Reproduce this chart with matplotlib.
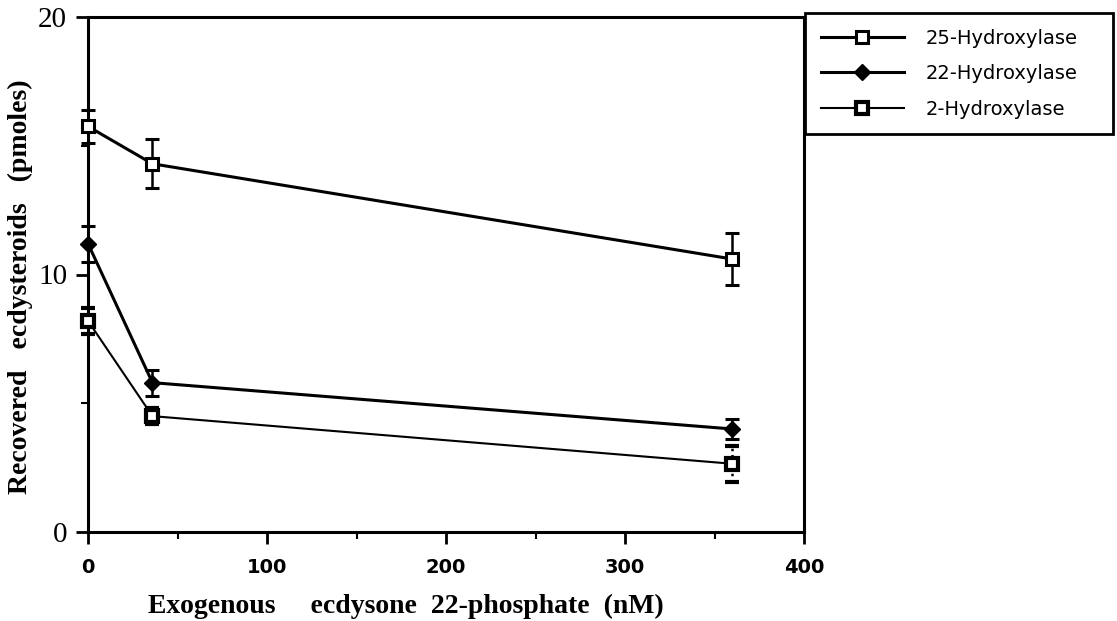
import matplotlib
matplotlib.use("Agg")
import matplotlib.pyplot as plt
from matplotlib.ticker import MultipleLocator

# exogenous ecdysone 22-phosphate concentrations (nM)
conc = [0, 36, 360]

# recovered ecdysteroids (pmoles) and error bars
hyd25 = [15.75, 14.3, 10.6]
hyd25_err = [0.65, 0.95, 1.0]
hyd22 = [11.2, 5.8, 4.0]
hyd22_err = [0.7, 0.5, 0.4]
hyd2 = [8.2, 4.5, 2.65]
hyd2_err = [0.5, 0.3, 0.7]

labels = ["25-Hydroxylase", "22-Hydroxylase", "2-Hydroxylase"]

W, H = 1117, 621
fig = plt.figure(figsize=(W / 100, H / 100), dpi=100)
ax = fig.add_axes([88 / W, 1 - 532 / H, (804 - 88) / W, (532 - 17) / H])

ekw = dict(color="black", capsize=5, capthick=2.2, elinewidth=1.8, clip_on=False, zorder=3)

e25 = ax.errorbar(conc, hyd25, yerr=hyd25_err, lw=2.2, marker="s", ms=8.5,
                  mfc="white", mec="black", mew=2.2, **ekw)
e22 = ax.errorbar(conc, hyd22, yerr=hyd22_err, lw=2.2, marker="D", ms=8,
                  mfc="black", mec="black", **ekw)
e2 = ax.errorbar(conc, hyd2, yerr=hyd2_err, lw=1.5, marker="s", ms=8,
                 mfc="white", mec="black", mew=3, **ekw)

# the last 2-hydroxylase bar is drawn dotted
bars = e2.lines[2][0]
bars.set_linestyles([(0, ()), (0, ()), (0, (1, 1.5))])

ax.set_xlim(0, 400)
ax.set_ylim(0, 20)
ax.xaxis.set_major_locator(MultipleLocator(100))
ax.xaxis.set_minor_locator(MultipleLocator(50))
ax.yaxis.set_major_locator(MultipleLocator(10))
ax.yaxis.set_minor_locator(MultipleLocator(5))

for s in ax.spines.values():
    s.set_linewidth(2.2)

ax.tick_params(which="major", direction="out", length=8.5, width=2)
ax.tick_params(which="minor", direction="out", length=5, width=1.5)
ax.tick_params(axis="x", pad=10)
ax.tick_params(axis="y", pad=6.5)

for t in ax.get_xticklabels():
    t.set_fontfamily("DejaVu Sans")
    t.set_fontweight("bold")
    t.set_fontsize(14)
for t in ax.get_yticklabels():
    t.set_fontfamily("Liberation Serif")
    t.set_fontsize(21)

# axis titles, wide word spacing as typeset
fig.text(148 / W, 1 - 613 / H, "Exogenous     ecdysone  22-phosphate  (nM)",
         family="Liberation Serif", weight="bold", fontsize=20,
         ha="left", va="baseline")
fig.text(20 / W, 1 - 287 / H, "Recovered   ecdysteroids   (pmoles)",
         family="Liberation Serif", weight="bold", fontsize=20,
         ha="center", va="center", rotation=90, rotation_mode="anchor")

leg = fig.legend([e25.lines[0], e22.lines[0], e2.lines[0]], labels,
                 loc="upper left", bbox_to_anchor=(805 / W, 0, (1113 - 805) / W, 1 - 13 / H),
                 mode="expand", borderaxespad=0, handlelength=4.3, handletextpad=1.1,
                 labelspacing=0.85, borderpad=0.8,
                 prop={"family": "DejaVu Sans", "size": 14},
                 frameon=True, fancybox=False, edgecolor="black", framealpha=1)
leg.get_frame().set_linewidth(2)

fig.savefig("out.png", dpi=100)
